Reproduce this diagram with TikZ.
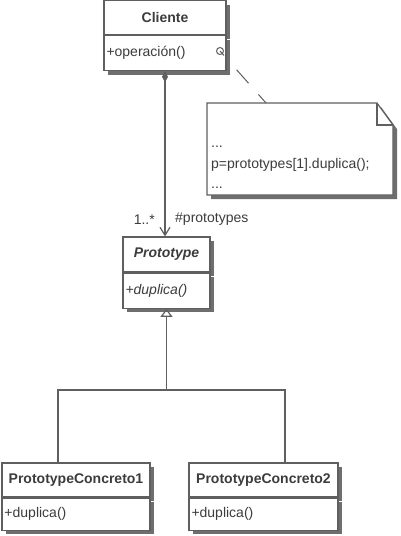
\documentclass[tikz,border=0pt]{standalone}
\usepackage{fontspec}
\setmainfont{Liberation Sans}
\usetikzlibrary{positioning,arrows.meta,shadows}
\definecolor{gristrazo}{RGB}{95,95,95}
\definecolor{grissombra}{RGB}{110,110,110}
\definecolor{gristexto}{RGB}{60,60,60}
\newcommand{\letra}{\fontsize{14}{17}\selectfont}
\tikzset{
  sombreado/.style={drop shadow={shadow xshift=4pt, shadow yshift=-4pt, fill=grissombra, opacity=1}},
  titulo/.style={draw=gristrazo, line width=1.2pt, fill=white, sombreado, font=\letra\bfseries, text=gristexto, minimum height=34pt, inner sep=0pt},
  metodos/.style={draw=gristrazo, line width=1.2pt, fill=white, sombreado, font=\letra, text=gristexto, align=left, inner xsep=2.5pt, inner ysep=0pt, minimum height=34pt},
  conector/.style={draw=gristrazo, line width=1.2pt},
  composicion/.style={conector, {Diamond[length=11pt,width=6pt]}-{Straight Barb[length=8pt,width=10pt]}},
  herencia/.style={conector, -{Triangle[open,length=8pt,width=12pt]}},
  etiqueta/.style={font=\letra, text=gristexto, inner sep=0pt},
}
\begin{document}
\begin{tikzpicture}[x=1pt, y=-1pt]
\useasboundingbox (0,0) rectangle (400,536);
% clases
\node[titulo, minimum width=122pt] (clienteT) at (165,17.5) {Cliente};
\node[metodos, text width=117pt, minimum height=35pt, below=0pt of clienteT] (clienteM) {+operación()};
\node[titulo, font=\letra\bfseries\itshape, minimum width=87pt, minimum height=35pt] (protoT) at (166.5,254.5) {Prototype};
\node[metodos, font=\letra\itshape, text width=82pt, minimum height=35pt, below=0pt of protoT] (protoM) {+duplica()};
\node[titulo, minimum width=148pt] (pc1T) at (76,480) {PrototypeConcreto1};
\node[metodos, text width=143pt, minimum height=32pt, below=0pt of pc1T] (pc1M) {+duplica()};
\node[titulo, minimum width=149pt] (pc2T) at (263.5,480) {PrototypeConcreto2};
\node[metodos, text width=144pt, minimum height=32pt, below=0pt of pc2T] (pc2M) {+duplica()};
% nota
\path[conector, fill=white, sombreado] (207,103) -- (377,103) -- (393,125) -- (393,195) -- (207,195) -- cycle;
\draw[conector] (377,103) |- (393,125);
\node[etiqueta, font=\fontsize{14}{20.5}\selectfont, align=left, anchor=north west] (codigo) at (211,146) {...\\p=prototypes[1].duplica();\\...};
\coordinate (notaarriba) at (266,103);
\node[draw=gristrazo, line width=1pt, circle, minimum size=7pt, inner sep=0pt] (ancla) at (220,51) {};
\draw[conector, line width=1pt, dash pattern=on 6pt off 19pt on 18pt off 15pt on 12pt off 10pt] (ancla.center) -- (notaarriba);
% asociacion
\draw[composicion] (clienteM.south) -- (clienteM.south |- protoT.north);
\node[etiqueta, anchor=east] (mult) at (155,220) {1..*};
\node[etiqueta, anchor=west] (rol) at (175,219) {\#prototypes};
% herencia
\coordinate (rama) at (166.5,390);
\draw[herencia] (rama) -- (protoM.south);
\draw[conector] ([xshift=-18pt]pc1T.north) |- (rama) -| ([xshift=21.5pt]pc2T.north);
\end{tikzpicture}
\end{document}
